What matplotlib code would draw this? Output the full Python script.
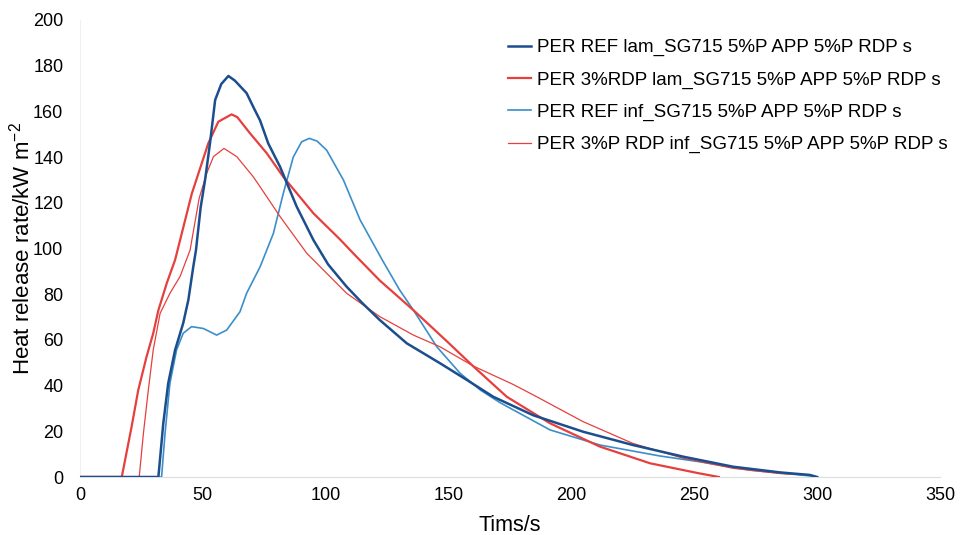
import matplotlib
matplotlib.use("Agg")
import matplotlib.pyplot as plt

plt.rcParams['font.family'] = ['Liberation Sans', 'DejaVu Sans']
plt.rcParams['mathtext.fontset'] = 'custom'
plt.rcParams['mathtext.rm'] = 'Liberation Sans'

labels = [
    "PER REF lam_SG715 5%P APP 5%P RDP s",
    "PER 3%RDP lam_SG715 5%P APP 5%P RDP s",
    "PER REF inf_SG715 5%P APP 5%P RDP s",
    "PER 3%P RDP inf_SG715 5%P APP 5%P RDP s",
]

t_ref_lam = [0, 31.9, 33.9, 35.9, 38.7, 42, 44.1, 46.1, 47.2, 49.1, 50.9, 52.9, 55, 57.5, 60.4, 63,
             67.8, 70.5, 73.3, 76.6, 81.4, 88.2, 95, 101, 108.5, 115, 122, 133, 146.5, 157.4,
             168.2, 184.5, 204.8, 225, 245.5, 265.8, 285, 297, 300]
v_ref_lam = [0, 0, 23.5, 41, 55.6, 67.3, 77.5, 92, 99.3, 118, 130, 146, 165, 172, 175.5, 173.5,
             168, 162, 156, 146, 135.8, 118.3, 103.7, 93, 83.3, 76, 68.7, 58.5, 49.8, 42.5,
             35.1, 27, 19.8, 14, 8.9, 4.5, 2, 0.9, 0]

t_rdp_lam = [0, 17, 21, 23.7, 27.1, 29.8, 31.9, 35.3, 38.7, 45.5, 52.2, 56.3, 61.7, 64, 69.2, 76,
             82.7, 95, 105.8, 112, 122, 135.7, 149.2, 160, 173.7, 191.3, 211.6, 232, 252, 260]
v_rdp_lam = [0, 0, 22, 38, 52.7, 62.9, 73, 84.8, 95, 124, 146, 155.5, 158.7, 157.5, 150.4, 141.7,
             131.4, 115.4, 104, 97, 86, 73, 59.5, 48.5, 35.1, 23.5, 13.3, 6, 1.6, 0]

t_ref_inf = [0, 33.2, 34.6, 36.6, 39.3, 42, 45.4, 50.2, 55.6, 59.7, 65.1, 67.8, 73.3, 78.7, 82.7,
             86.8, 90.2, 93.3, 96.5, 100.4, 107.2, 114, 123, 130, 135.7, 145.2, 154.7, 163,
             171, 191.3, 211.6, 236, 252, 272.7, 297, 300]
v_ref_inf = [0, 0, 19, 41, 55.6, 62.9, 65.8, 65, 62.1, 64.3, 72.3, 80.4, 92, 106.6, 124,
             140, 146.7, 148.2, 147, 143, 130, 112.5, 95, 82, 73, 57, 45.4, 38,
             32.5, 20.6, 14, 9.2, 6.7, 3, 0.5, 0]

t_rdp_inf = [0, 24.1, 25.8, 27.8, 29.8, 32.6, 36.6, 40.7, 44.8, 48.5, 51.6, 54.3, 58.6, 63.8,
             70.5, 73.3, 81.4, 92.3, 108.5, 122, 135.7, 146.5, 160, 176.3, 184.5, 204.8, 225,
             245.5, 265.8, 285, 297, 300]
v_rdp_inf = [0, 0, 19, 38, 55.6, 71.6, 80.4, 87.7, 99.3, 122, 133, 140.2, 143.8, 140.2,
             131.4, 127, 114, 97.9, 80.4, 70.2, 62.1, 57, 48.6, 40.5, 35.9, 24.2, 14.7,
             8.2, 3.8, 1.5, 0.9, 0]

x_ticks = [0, 50, 100, 150, 200, 250, 300, 350]
y_ticks = [0, 20, 40, 60, 80, 100, 120, 140, 160, 180, 200]

c_dark = '#1c4e8e'
c_red = '#e5403d'
c_light = '#3a8fcb'

fig = plt.figure(figsize=(9.61, 5.35), dpi=100)
ax = fig.add_axes([80 / 961, 58 / 535, 860 / 961, 457 / 535])

ax.plot(t_ref_lam, v_ref_lam, color=c_dark, lw=1.8, label=labels[0], zorder=4)
ax.plot(t_rdp_lam, v_rdp_lam, color=c_red, lw=1.6, label=labels[1], zorder=3)
ax.plot(t_ref_inf, v_ref_inf, color=c_light, lw=1.2, label=labels[2], zorder=2)
ax.plot(t_rdp_inf, v_rdp_inf, color=c_red, lw=0.9, label=labels[3], zorder=2)

ax.set_xlim(0, 350)
ax.set_ylim(0, 200)
ax.set_xticks(x_ticks)
ax.set_yticks(y_ticks)
ax.tick_params(axis='x', length=0, labelsize=13, pad=7)
ax.tick_params(axis='y', length=0, labelsize=13, pad=12)
for s in ['top', 'right']:
    ax.spines[s].set_visible(False)
ax.spines['left'].set_color('#f0f0f0')
ax.spines['bottom'].set_color('#dddddd')
ax.spines['left'].set_linewidth(0.8)
ax.spines['bottom'].set_linewidth(0.8)

ax.set_xlabel('Tims/s', fontsize=15.5, labelpad=8)
ax.set_ylabel('Heat release rate/kW m$^{-2}$', fontsize=16, labelpad=-1)

leg = fig.legend(loc='upper left', bbox_to_anchor=(508 / 961, 1 - 39 / 535), frameon=False,
                 fontsize=13.5, handlelength=1.25, handletextpad=0.32, labelspacing=0.8,
                 borderpad=0, borderaxespad=0)

fig.savefig('out.png', dpi=100)
